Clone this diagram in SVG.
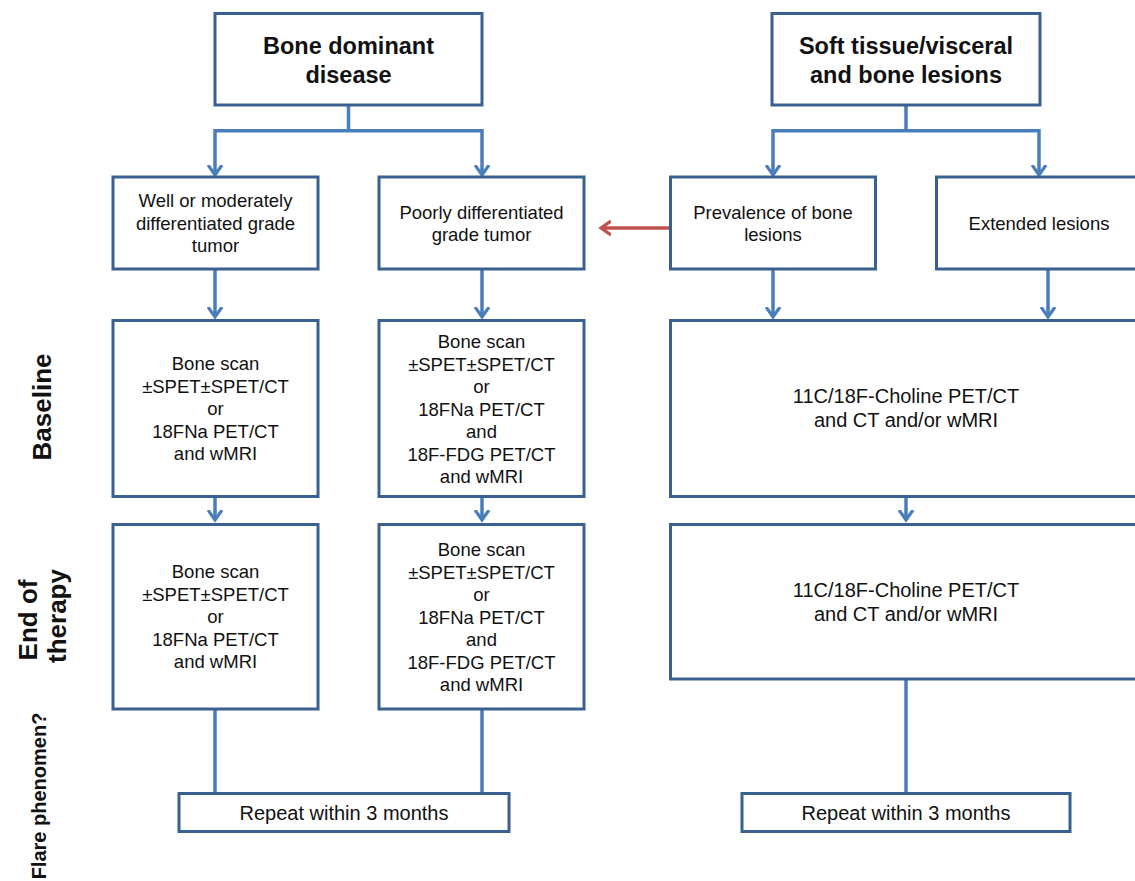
<svg xmlns="http://www.w3.org/2000/svg" width="1135" height="881" viewBox="0 0 1135 881">
<defs>
<style>
.box{fill:#fff;stroke:#3A6091;stroke-width:3}
.con{fill:none;stroke:#4A7EBB;stroke-width:3.5}
.red{fill:none;stroke:#C0504D;stroke-width:3.5}
text{font-family:"Liberation Sans",Arial,sans-serif;fill:#111;text-anchor:middle}
.h{font-size:23.5px;font-weight:bold}
.t{font-size:18.5px}
.t2{font-size:20px}
.side{font-size:26px;font-weight:bold}
.flare{font-size:20px;font-weight:bold}
</style>
<marker id="ab" markerUnits="userSpaceOnUse" markerWidth="20" markerHeight="20" viewBox="-10 -12 20 20" refX="0" refY="0" orient="auto">
<path d="M-10,-7 L0,0 L-10,7" fill="none" stroke="#4A7EBB" stroke-width="3.2"/>
</marker>
<marker id="ar" markerUnits="userSpaceOnUse" markerWidth="20" markerHeight="20" viewBox="-10 -12 20 20" refX="0" refY="0" orient="auto">
<path d="M-10,-7 L0,0 L-10,7" fill="none" stroke="#C0504D" stroke-width="3.2"/>
</marker>
</defs>
<rect width="1135" height="881" fill="#fff"/>

<g id="connectors">
<path class="con" d="M348.5,105 V130.7 M215,130.7 H482"/>
<path class="con" d="M215,129 V175" marker-end="url(#ab)"/>
<path class="con" d="M482,129 V175" marker-end="url(#ab)"/>
<path class="con" d="M906,105 V130.7 M773,130.7 H1039"/>
<path class="con" d="M773,129 V175" marker-end="url(#ab)"/>
<path class="con" d="M1039,129 V175" marker-end="url(#ab)"/>
<path class="con" d="M215,269 V317" marker-end="url(#ab)"/>
<path class="con" d="M482,269 V317" marker-end="url(#ab)"/>
<path class="con" d="M773,269 V317" marker-end="url(#ab)"/>
<path class="con" d="M1048,269 V317" marker-end="url(#ab)"/>
<path class="con" d="M215,496 V520" marker-end="url(#ab)"/>
<path class="con" d="M482,496 V520" marker-end="url(#ab)"/>
<path class="con" d="M906,496 V520" marker-end="url(#ab)"/>
<path class="con" d="M215,709 V793 M482,709 V793 M906,679 V793"/>
<path class="red" d="M670,228 H601" marker-end="url(#ar)"/>
</g>

<g id="bone-dominant">
<rect class="box" x="215" y="13.5" width="267" height="91.5"/>
<text class="h" x="348.5" y="54">Bone dominant</text>
<text class="h" x="348.5" y="83">disease</text>
</g>
<g id="soft-tissue">
<rect class="box" x="772" y="13.5" width="268" height="91.5"/>
<text class="h" x="906" y="54">Soft tissue/visceral</text>
<text class="h" x="906" y="83">and bone lesions</text>
</g>

<g id="well-diff">
<rect class="box" x="113" y="177" width="205" height="92"/>
<text class="t" x="215.5" y="207">Well or moderately</text>
<text class="t" x="215.5" y="229.5">differentiated grade</text>
<text class="t" x="215.5" y="252">tumor</text>
</g>
<g id="poorly-diff">
<rect class="box" x="379" y="177" width="205" height="92"/>
<text class="t" x="481.5" y="218.5">Poorly differentiated</text>
<text class="t" x="481.5" y="241">grade tumor</text>
</g>
<g id="prevalence">
<rect class="box" x="670.5" y="177" width="205" height="92"/>
<text class="t" x="773" y="218.5">Prevalence of bone</text>
<text class="t" x="773" y="241">lesions</text>
</g>
<g id="extended">
<rect class="box" x="936.5" y="177" width="220" height="92"/>
<text class="t" x="1039" y="229.5">Extended lesions</text>
</g>

<g id="baseline-left">
<rect class="box" x="113" y="320.5" width="205" height="176"/>
<text class="t" x="215.5" y="370">Bone scan</text>
<text class="t" x="215.5" y="392.5">±SPET±SPET/CT</text>
<text class="t" x="215.5" y="415">or</text>
<text class="t" x="215.5" y="437.5">18FNa PET/CT</text>
<text class="t" x="215.5" y="460">and wMRI</text>
</g>
<g id="baseline-middle">
<rect class="box" x="379" y="320.5" width="205" height="176"/>
<text class="t" x="481.5" y="348">Bone scan</text>
<text class="t" x="481.5" y="370.5">±SPET±SPET/CT</text>
<text class="t" x="481.5" y="393">or</text>
<text class="t" x="481.5" y="415.5">18FNa PET/CT</text>
<text class="t" x="481.5" y="438">and</text>
<text class="t" x="481.5" y="460.5">18F-FDG PET/CT</text>
<text class="t" x="481.5" y="483">and wMRI</text>
</g>
<g id="baseline-right">
<rect class="box" x="670.5" y="320.5" width="480" height="176"/>
<text class="t2" x="906" y="403">11C/18F-Choline PET/CT</text>
<text class="t2" x="906" y="427">and CT and/or wMRI</text>
</g>

<g id="end-left">
<rect class="box" x="113" y="524.5" width="205" height="184.5"/>
<text class="t" x="215.5" y="578">Bone scan</text>
<text class="t" x="215.5" y="600.5">±SPET±SPET/CT</text>
<text class="t" x="215.5" y="623">or</text>
<text class="t" x="215.5" y="645.5">18FNa PET/CT</text>
<text class="t" x="215.5" y="668">and wMRI</text>
</g>
<g id="end-middle">
<rect class="box" x="379" y="524.5" width="205" height="184.5"/>
<text class="t" x="481.5" y="556">Bone scan</text>
<text class="t" x="481.5" y="578.5">±SPET±SPET/CT</text>
<text class="t" x="481.5" y="601">or</text>
<text class="t" x="481.5" y="623.5">18FNa PET/CT</text>
<text class="t" x="481.5" y="646">and</text>
<text class="t" x="481.5" y="668.5">18F-FDG PET/CT</text>
<text class="t" x="481.5" y="691">and wMRI</text>
</g>
<g id="end-right">
<rect class="box" x="670.5" y="524.5" width="480" height="154.5"/>
<text class="t2" x="906" y="597">11C/18F-Choline PET/CT</text>
<text class="t2" x="906" y="621">and CT and/or wMRI</text>
</g>

<g id="repeat-left">
<rect class="box" x="179" y="793.5" width="330" height="38"/>
<text class="t2" x="344" y="820">Repeat within 3 months</text>
</g>
<g id="repeat-right">
<rect class="box" x="742" y="793.5" width="328" height="38"/>
<text class="t2" x="906" y="820">Repeat within 3 months</text>
</g>

<g id="labels">
<text class="side" transform="translate(51,407) rotate(-90)">Baseline</text>
<text class="side" transform="translate(37,620) rotate(-90)">End of</text>
<text class="side" transform="translate(66,616) rotate(-90)">therapy</text>
<text class="flare" transform="translate(46,796) rotate(-90)">Flare phenomen?</text>
</g>
</svg>
